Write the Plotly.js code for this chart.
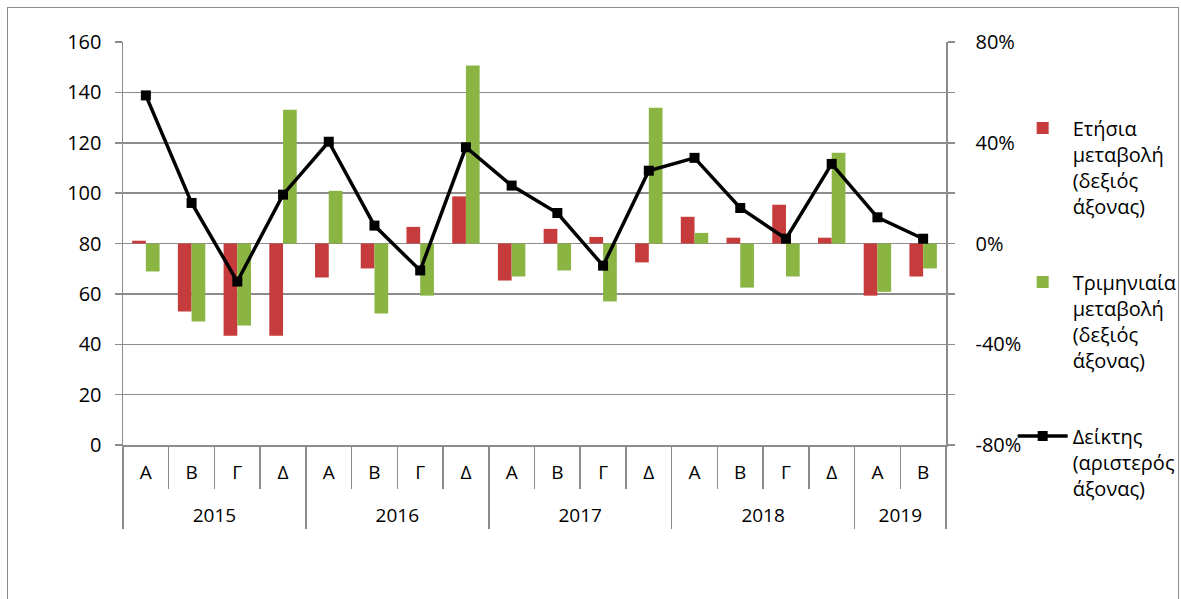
<!DOCTYPE html>
<html><head><meta charset="utf-8">
<script src="https://cdn.plot.ly/plotly-3.0.1.min.js"></script>
<style>
body{margin:0;background:#fff;}
#chart{width:1181px;height:599px;position:absolute;left:0;top:0;}
#frame{position:absolute;left:7px;top:7px;width:1170px;height:640px;border:1.5px solid #8c8c8c;pointer-events:none;}
</style>
</head><body>
<div id="chart"></div><div id="frame"></div>
<script>
const years = ['2015','2015','2015','2015','2016','2016','2016','2016','2017','2017','2017','2017','2018','2018','2018','2018','2019','2019'];
const quarters = ['Α','Β','Γ','Δ','Α','Β','Γ','Δ','Α','Β','Γ','Δ','Α','Β','Γ','Δ','Α','Β'];
const annualChange = [1.1, -27.0, -36.6, -36.6, -13.5, -9.9, 6.6, 18.7, -14.7, 5.8, 2.6, -7.5, 10.6, 2.3, 15.4, 2.3, -20.7, -13.1];
const quarterlyChange = [-11.1, -31.0, -32.6, 53.1, 20.9, -27.8, -20.7, 70.7, -13.1, -10.7, -23.0, 53.9, 4.2, -17.5, -13.1, 36.0, -19.2, -9.9];
const indexValues = [138.8, 96.1, 64.9, 99.4, 120.4, 87.1, 69.3, 118.2, 103.0, 92.1, 71.2, 108.9, 114.0, 94.1, 81.9, 111.6, 90.4, 81.9];
const pctTickVals = [-80,-60,-40,-20,0,20,40,60,80];
const pctTickText = ['-80%','','-40%','','0%','','40%','','80%'];
const seriesNames = ['Ετήσια<br>μεταβολή<br>(δεξιός<br>άξονας)', 'Τριμηνιαία<br>μεταβολή<br>(δεξιός<br>άξονας)', 'Δείκτης<br>(αριστερός<br>άξονας)'];

// year labels sit one line lower than the quarter labels
const yearLabels = years.map(y => '<br>' + y);
const xCats = [yearLabels, quarters];

const FONT = 'Open Sans, Noto Sans, sans-serif';
const GRID = '#8c8c8c';

const data = [
  {type:'bar', x:xCats, y:annualChange, name:seriesNames[0], yaxis:'y', legendgroup:'a',
   marker:{color:'#C63B3B'}},
  {type:'bar', x:xCats, y:quarterlyChange, name:seriesNames[1], yaxis:'y', legendgroup:'b',
   marker:{color:'#8AB543'}},
  {type:'scatter', mode:'lines+markers', x:xCats, y:indexValues, name:seriesNames[2], yaxis:'y2', legendgroup:'c',
   line:{color:'#000', width:3.5}, marker:{symbol:'square', size:10, color:'#000'}}
];

const layout = {
  width:1181, height:599,
  paper_bgcolor:'#fff', plot_bgcolor:'#fff',
  margin:{l:123, r:235, t:42, b:154, autoexpand:false},
  font:{family:FONT, size:19, color:'#000'},
  barmode:'group', bargap:0.4, bargroupgap:0,
  showlegend:true,
  legend:{x:1.081, xanchor:'left', y:0.835, yanchor:'top', traceorder:'grouped', tracegroupgap:47,
    valign:'top', itemwidth:50, font:{family:FONT, size:20, color:'#000'}, bgcolor:'rgba(0,0,0,0)'},
  xaxis:{type:'multicategory', range:[-0.5,17.5], autorange:false, showline:true, linecolor:GRID, linewidth:1.5,
    ticks:'outside', tickson:'boundaries',
    ticklen:42, tickcolor:GRID, tickwidth:1.5, showdividers:true, dividercolor:GRID, dividerwidth:1.5,
    showgrid:false, tickfont:{family:FONT, size:19, color:'#000'}, ticklabelstandoff:10},
  yaxis:{side:'right', range:[-80,80], tickvals:pctTickVals, ticktext:pctTickText, showgrid:true, gridcolor:GRID, gridwidth:1.5,
    zeroline:false, showline:true, linecolor:GRID, linewidth:1.5, ticks:'outside', ticklen:7, tickcolor:GRID, tickwidth:1.5,
    ticklabelstandoff:17, tickfont:{family:FONT, size:20, color:'#000'}},
  yaxis2:{side:'left', overlaying:'y', range:[0,160], dtick:20, showgrid:false, zeroline:false,
    showline:true, linecolor:GRID, linewidth:1.5, ticks:'outside', ticklen:7, tickcolor:GRID, tickwidth:1.5,
    ticklabelstandoff:9, tickfont:{family:FONT, size:20, color:'#000'}}
};

Plotly.newPlot('chart', data, layout, {displayModeBar:false, staticPlot:true});
</script>
</body></html>
